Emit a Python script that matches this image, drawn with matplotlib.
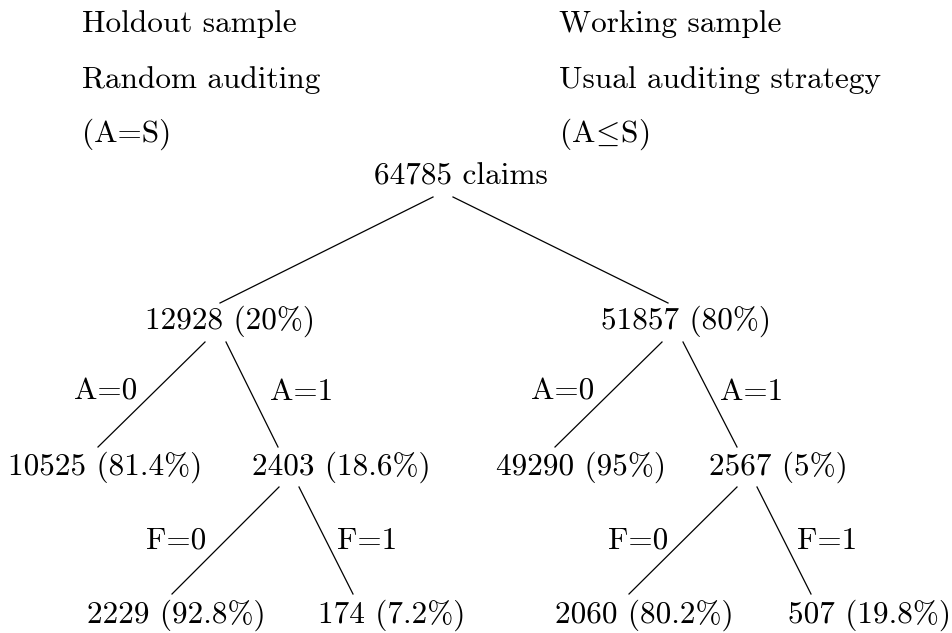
import matplotlib
matplotlib.use("Agg")
import matplotlib.pyplot as plt

plt.rcParams["font.family"] = "cmr10"
plt.rcParams["mathtext.fontset"] = "cm"

# data
total_claims = 64785
sample_names = ["Holdout sample", "Working sample"]
strategy_names = ["Random auditing", "Usual auditing strategy"]
strategy_rules = ["(A=S)", "(A$\\!\\leq\\!$S)"]
sample_counts = [12928, 51857]
sample_pcts = ["20", "80"]
audit_counts = [[10525, 2403], [49290, 2567]]
audit_pcts = [["81.4", "18.6"], ["95", "5"]]
fraud_counts = [[2229, 174], [2060, 507]]
fraud_pcts = [["92.8", "7.2"], ["80.2", "19.8"]]
audit_labels = ["A=0", "A=1"]
fraud_labels = ["F=0", "F=1"]

# layout (pixel coordinates, origin top-left)
header_x = [82, 559]
header_y = [24, 80, 134]
root_xy = (461, 177)
sample_x = [230, 686]
audit_x = [[105, 341], [581, 778]]
fraud_x = [[176, 392], [644, 870]]
level_y = [321, 467, 615]
edge_label_y = [392, 541]
audit_label_x = [[106, 302], [563, 752]]
fraud_label_x = [[176, 367], [638, 827]]
root_edges = [(433, 197, 220, 303), (453, 197, 668, 303)]
audit_edges = [[(205, 342, 98, 447), (226, 342, 278, 447)],
               [(662, 342, 555, 447), (683, 342, 737, 447)]]
fraud_edges = [[(279, 487, 172, 594), (299, 487, 353, 594)],
               [(737, 487, 629, 594), (757, 487, 811, 594)]]

fs = 22.5
fig = plt.figure(figsize=(9.52, 6.33), dpi=100)
ax = fig.add_axes([0, 0, 1, 1])
ax.set_xlim(0, 952)
ax.set_ylim(633, 0)
ax.axis("off")


def label(x, y, s, ha="center"):
    ax.text(x, y, s, ha=ha, va="center", fontsize=fs)


def edge(e):
    ax.plot([e[0], e[2]], [e[1], e[3]], color="black", lw=0.9)


for i in range(2):
    for j, txt in enumerate([sample_names[i], strategy_names[i], strategy_rules[i]]):
        label(header_x[i], header_y[j], txt, ha="left")

label(root_xy[0], root_xy[1], f"{total_claims} claims")
for e in root_edges:
    edge(e)

for i in range(2):
    label(sample_x[i], level_y[0], f"{sample_counts[i]} ({sample_pcts[i]}%)")
    for k in range(2):
        edge(audit_edges[i][k])
        label(audit_label_x[i][k], edge_label_y[0], audit_labels[k])
        label(audit_x[i][k], level_y[1], f"{audit_counts[i][k]} ({audit_pcts[i][k]}%)")
        edge(fraud_edges[i][k])
        label(fraud_label_x[i][k], edge_label_y[1], fraud_labels[k])
        label(fraud_x[i][k], level_y[2], f"{fraud_counts[i][k]} ({fraud_pcts[i][k]}%)")

fig.savefig("out.png", dpi=100)
